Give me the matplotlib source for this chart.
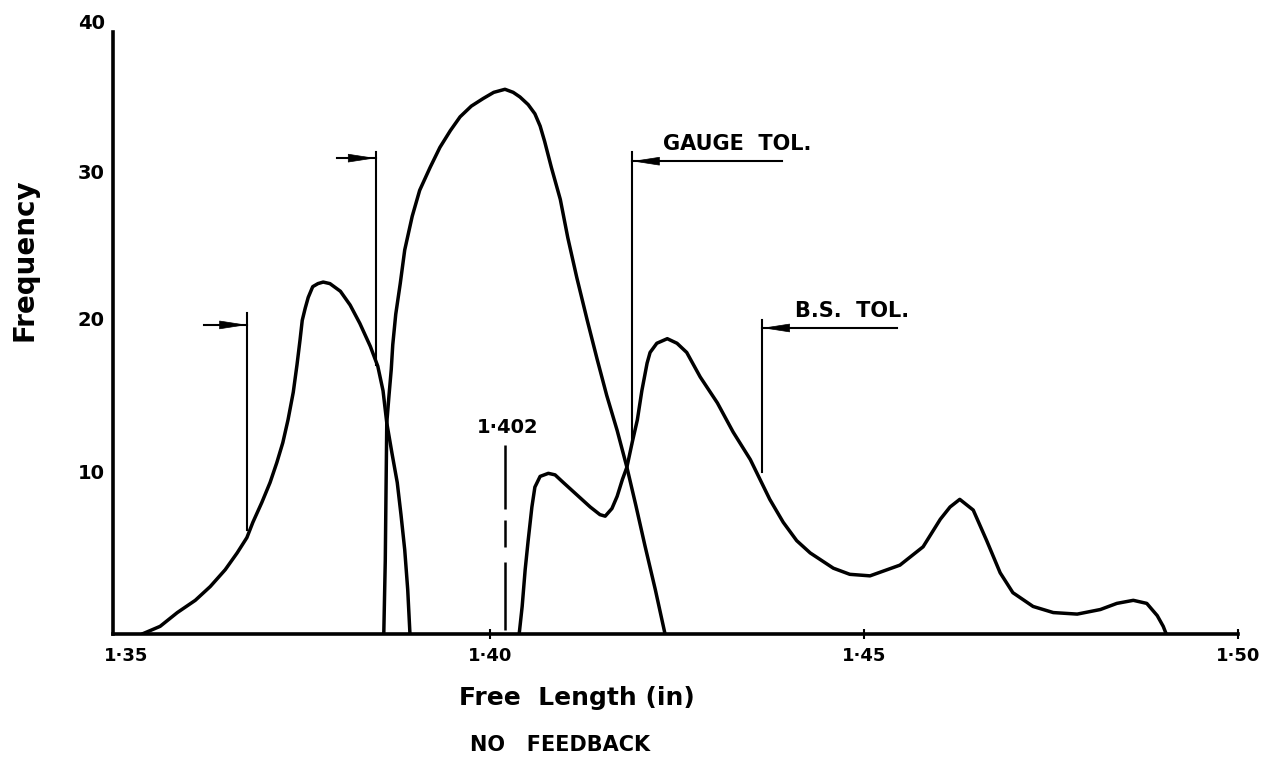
import matplotlib.pyplot as plt
from matplotlib.transforms import ScaledTranslation

# free length (in) and frequency for the three distributions
len_a = [1.3535, 1.3559, 1.3582, 1.3606, 1.3626, 1.3646, 1.3662, 1.3675, 1.3683,
         1.3695, 1.3706, 1.3715, 1.3723, 1.3730, 1.3737, 1.3742, 1.3746, 1.3749,
         1.3753, 1.3757, 1.3763, 1.3770, 1.3777, 1.3786, 1.3800, 1.3813, 1.3826,
         1.3840, 1.3850, 1.3857, 1.3862, 1.3869, 1.3876, 1.3881, 1.3886, 1.3890,
         1.3893]
freq_a = [0, 0.5, 1.4, 2.2, 3.1, 4.2, 5.3, 6.3, 7.3,
          8.6, 9.9, 11.2, 12.5, 14.0, 15.8, 17.6, 19.2, 20.5,
          21.3, 22.0, 22.7, 22.9, 23.0, 22.9, 22.4, 21.5, 20.3,
          18.8, 17.5, 15.9, 13.8, 11.8, 9.9, 7.8, 5.5, 2.9,
          0]

len_b = [1.3858, 1.3860, 1.3861, 1.3862, 1.3865, 1.3868, 1.3870, 1.3874, 1.3880,
         1.3886, 1.3896, 1.3906, 1.3920, 1.3933, 1.3947, 1.3960, 1.3975, 1.3991,
         1.4005, 1.4020, 1.4031, 1.4040, 1.4051, 1.4060, 1.4067, 1.4073, 1.4082,
         1.4094, 1.4104, 1.4116, 1.4130, 1.4143, 1.4156, 1.4170, 1.4183, 1.4195,
         1.4207, 1.4221, 1.4234]
freq_b = [0, 4.8, 9.4, 13.8, 15.6, 17.3, 18.9, 20.9, 22.9,
          25.1, 27.3, 29.0, 30.5, 31.8, 32.9, 33.8, 34.5, 35.0,
          35.4, 35.6, 35.4, 35.1, 34.6, 34.0, 33.2, 32.2, 30.5,
          28.4, 25.9, 23.3, 20.5, 18.0, 15.6, 13.3, 10.9, 8.4,
          5.8, 2.9, 0]

len_c = [1.4039, 1.4043, 1.4047, 1.4051, 1.4056, 1.4060, 1.4067, 1.4078, 1.4087,
         1.4098, 1.4116, 1.4134, 1.4147, 1.4154, 1.4163, 1.4170, 1.4177, 1.4183,
         1.4190, 1.4197, 1.4203, 1.4210, 1.4214, 1.4223, 1.4237, 1.4250, 1.4263,
         1.4281, 1.4304, 1.4325, 1.4348, 1.4361, 1.4374, 1.4392, 1.4410, 1.4428,
         1.4459, 1.4481, 1.4508, 1.4548, 1.4579, 1.4602, 1.4615, 1.4628, 1.4646,
         1.4664, 1.4682, 1.4699, 1.4726, 1.4753, 1.4785, 1.4816, 1.4838, 1.4860,
         1.4878, 1.4892, 1.4900, 1.4904]
freq_c = [0, 1.8, 4.2, 6.1, 8.3, 9.6, 10.3, 10.5, 10.4,
          9.9, 9.1, 8.3, 7.8, 7.7, 8.2, 9.0, 10.1, 10.9,
          12.5, 14.0, 15.9, 17.7, 18.4, 19.0, 19.3, 19.0, 18.4,
          16.8, 15.1, 13.2, 11.4, 10.1, 8.8, 7.3, 6.1, 5.3,
          4.3, 3.9, 3.8, 4.5, 5.7, 7.5, 8.3, 8.8, 8.1,
          6.1, 4.0, 2.7, 1.8, 1.4, 1.3, 1.6, 2.0, 2.2,
          2.0, 1.2, 0.5, 0]

mean_len = 1.402
gauge_tol = (1.3847, 1.4190)
bs_tol = (1.3675, 1.4364)

x_ticks = [1.35, 1.40, 1.45, 1.50]
x_labels = ['1·35', '1·40', '1·45', '1·50']
y_ticks = [10, 20, 30, 40]

plt.rcParams['font.family'] = 'DejaVu Sans'
plt.rcParams['font.weight'] = 'bold'

fig = plt.figure(figsize=(12.84, 7.6), dpi=100)
ax = fig.add_axes([0.088, 0.1658, 0.8762, 0.8053])

curve_kw = dict(color='black', lw=2.5, solid_joinstyle='round', solid_capstyle='round')
ax.plot(len_a, freq_a, **curve_kw)
ax.plot(len_b, freq_b, **curve_kw)
ax.plot(len_c, freq_c, **curve_kw)

# tolerance limits: vertical line, leader and an arrowhead pointing at it
mark_kw = dict(color='black', lw=1.5)
head = dict(arrowstyle='-|>,head_length=0.9,head_width=0.14', color='black',
            lw=0.5, mutation_scale=20, shrinkA=0, shrinkB=0)


def tol_mark(x, y0, y1, y_arrow, x_from):
    ax.plot([x, x], [y0, y1], **mark_kw)
    ax.plot([x_from, x], [y_arrow, y_arrow], **mark_kw)
    ax.annotate('', xy=(x, y_arrow), xytext=(x_from, y_arrow), arrowprops=head)


tol_mark(bs_tol[0], 6.8, 21.0, 20.2, 1.3618)
tol_mark(gauge_tol[0], 17.6, 31.5, 31.1, 1.3796)
tol_mark(gauge_tol[1], 12.4, 31.5, 30.9, 1.4390)
tol_mark(bs_tol[1], 10.6, 20.5, 20.0, 1.4544)

ax.text(1.4231, 31.35, 'GAUGE  TOL.', fontsize=15, ha='left', va='bottom')
ax.text(1.4408, 20.45, 'B.S.  TOL.', fontsize=15, ha='left', va='bottom')

# mean free length, broken line
ax.vlines([mean_len] * 3, [8.2, 5.7, 0.25], [12.35, 7.45, 4.7], color='black', lw=1.8)
ax.text(mean_len + 0.0004, 13.5, '1·402', fontsize=14, ha='center', va='center')

ax.set_xlim(1.3496, 1.5)
ax.set_ylim(0, 40)
ax.spines['top'].set_visible(False)
ax.spines['right'].set_visible(False)
ax.spines['left'].set_linewidth(2.6)
ax.spines['bottom'].set_linewidth(2.6)
ax.spines['left'].set_bounds(0, 39.35)

ax.set_xticks(x_ticks)
ax.set_xticklabels(x_labels)
ax.set_yticks(y_ticks)
ax.tick_params(axis='x', direction='inout', length=7, width=1.5, pad=6, labelsize=13)
ax.tick_params(axis='y', length=0, pad=6, labelsize=14)
ax.xaxis.get_major_ticks()[0].tick1line.set_visible(False)

# hand-lettered labels sit a little off their ticks
first = ax.get_xticklabels()[0]
first.set_transform(first.get_transform() + ScaledTranslation(0.1, 0, fig.dpi_scale_trans))
for lbl, dy in zip(ax.get_yticklabels(), [0.09, 0.09, 0.03, 0.0]):
    lbl.set_transform(lbl.get_transform() + ScaledTranslation(0, dy, fig.dpi_scale_trans))

fig.text(25 / 1284, 1 - 260 / 760, 'Frequency', rotation=90, ha='center', va='center',
         fontsize=20)
fig.text(577 / 1284, 1 - 698 / 760, 'Free  Length (in)', ha='center', va='center',
         fontsize=18)
fig.text(560 / 1284, 1 - 745 / 760, 'NO   FEEDBACK', ha='center', va='center',
         fontsize=15)

fig.savefig('out.png', dpi=100)
